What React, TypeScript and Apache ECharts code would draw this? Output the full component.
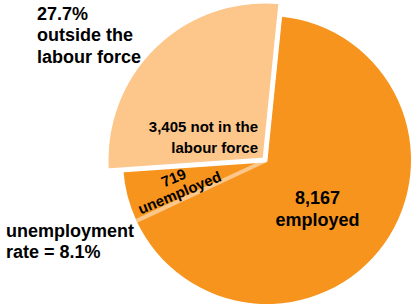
import React, { useEffect, useRef } from 'react';
import * as echarts from 'echarts';

// ---- data ----
const categories = ['employed', 'unemployed', 'not in the labour force'];
const values = [8167, 719, 3405];

const ORANGE = '#F7941D';
const LIGHT = '#FDC68A';
const FONT = '"Liberation Sans", Arial, Helvetica, sans-serif';

const fmt = (v: number) => v.toLocaleString('en-US');

export default function App() {
  const ref = useRef<HTMLDivElement>(null);

  useEffect(() => {
    if (!ref.current) return;
    const chart = echarts.init(ref.current, null, { renderer: 'svg' });

    const total = values.reduce((a, b) => a + b, 0);
    const outsidePct = ((values[2] / total) * 100).toFixed(1);
    const unempRate = ((values[1] / (values[0] + values[1])) * 100).toFixed(1);

    const CX = 267;
    const CY = 160;
    const R = 144;
    const START = 84.2;

    const baseText = (size: number) => ({
      fill: '#000',
      fontFamily: FONT,
      fontWeight: 'bold',
      fontSize: size,
    });

    const option: any = {
      animation: false,
      backgroundColor: '#ffffff',
      polar: { center: [CX, CY], radius: R },
      angleAxis: {
        type: 'value',
        min: 0,
        max: total,
        startAngle: START,
        clockwise: true,
        show: false,
      },
      radiusAxis: { type: 'value', min: 0, max: 1, show: false },
      series: [
        {
          type: 'pie',
          z: 1,
          silent: true,
          center: [CX, CY],
          radius: [0, R],
          startAngle: START,
          clockwise: true,
          label: { show: false },
          labelLine: { show: false },
          emphasis: { disabled: true },
          data: categories.map((c, i) => ({
            name: c,
            value: values[i],
            itemStyle: {
              color: i < 2 ? ORANGE : 'rgba(0,0,0,0)',
              borderWidth: 0,
            },
          })),
        },
        {
          type: 'line',
          z: 2,
          silent: true,
          coordinateSystem: 'polar',
          symbol: 'none',
          lineStyle: { color: LIGHT, width: 4 },
          data: [
            [0, values[0]],
            [1, values[0]],
          ],
        },
        {
          type: 'pie',
          z: 3,
          silent: true,
          center: [CX - 2, CY],
          radius: [0, 159],
          startAngle: START,
          clockwise: true,
          label: { show: false },
          labelLine: { show: false },
          emphasis: { disabled: true },
          data: categories.map((c, i) => ({
            name: c,
            value: values[i],
            itemStyle:
              i === 2
                ? { color: LIGHT, borderColor: '#ffffff', borderWidth: 5, borderJoin: 'round' }
                : { color: 'rgba(0,0,0,0)', borderWidth: 0 },
          })),
        },
      ],
      graphic: [
        {
          type: 'text',
          z: 100,
          x: 37,
          y: 3,
          style: {
            ...baseText(18),
            text: `${outsidePct}%\noutside the\nlabour force`,
            lineHeight: 21.5,
            align: 'left',
            verticalAlign: 'top',
          },
        },
        {
          type: 'text',
          z: 100,
          x: 6,
          y: 220,
          style: {
            ...baseText(18),
            text: `unemployment\nrate = ${unempRate}%`,
            lineHeight: 21,
            align: 'left',
            verticalAlign: 'top',
          },
        },
        {
          type: 'text',
          z: 100,
          x: 258,
          y: 116,
          style: {
            ...baseText(15),
            text: `${fmt(values[2])} not in the\nlabour force`,
            lineHeight: 21,
            align: 'right',
            verticalAlign: 'top',
          },
        },
        {
          type: 'text',
          z: 100,
          x: 317.5,
          y: 209,
          style: {
            ...baseText(18),
            text: `${fmt(values[0])}\n${categories[0]}`,
            lineHeight: 22,
            align: 'center',
            verticalAlign: 'middle',
          },
        },
        {
          type: 'text',
          z: 100,
          x: 176.5,
          y: 185,
          rotation: (22.5 * Math.PI) / 180,
          style: {
            ...baseText(15),
            text: `${fmt(values[1])}\n${categories[1]}`,
            lineHeight: 16,
            align: 'center',
            verticalAlign: 'middle',
          },
        },
      ],
    };

    chart.setOption(option);
    return () => chart.dispose();
  }, []);

  return (
    <div
      ref={ref}
      style={{
        position: 'fixed',
        left: 0,
        top: 0,
        width: 411,
        height: 305,
        background: '#fff',
      }}
    />
  );
}
